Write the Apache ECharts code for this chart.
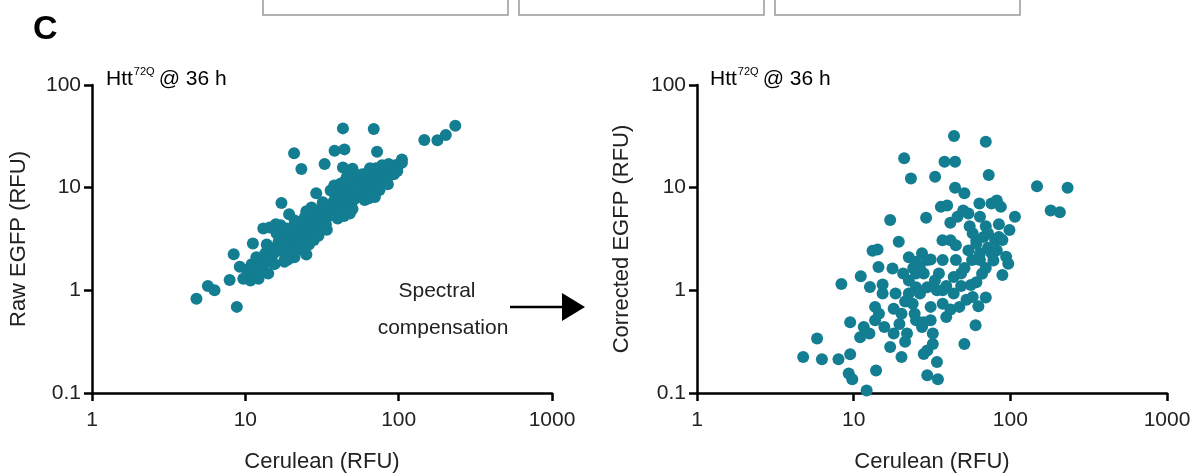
<!DOCTYPE html>
<html>
<head>
<meta charset="utf-8">
<script src="https://cdn.jsdelivr.net/npm/echarts@6/dist/echarts.min.js"></script>
<style>
  html, body { margin: 0; padding: 0; background: #fff; }
  #main { width: 1196px; height: 475px; }
</style>
</head>
<body>
<div id="main"></div>
<script>
// values (Cerulean RFU, EGFP RFU)
const rawPoints = [
  [4.8, 0.83], [5.7, 1.1], [6.3, 1.0], [8.8, 0.69], [7.9, 1.26], [8.4, 2.25], [9.2, 1.7], [9.7, 1.3], [10.2, 1.6],
  [11.2, 2.86], [13.1, 4.0], [14.1, 1.46], [14.4, 4.1], [17.2, 7.1], [19.3, 5.5], [17.6, 3.8], [18.0, 1.97],
  [20.9, 2.1], [25.0, 2.23], [20.8, 21.6], [23.2, 15.2], [29.0, 8.8], [32.9, 17.0], [38.2, 22.9], [44.3, 23.6],
  [43.3, 37.8], [68.8, 37.3], [72.3, 22.4], [43.3, 15.7], [50, 15.3], [105, 18.8], [147, 29.1], [179, 29],
  [203, 32.6], [234, 40],
  [10.5, 1.5], [11, 1.8], [11.5, 1.4], [12, 1.7], [12.5, 2.0], [13, 1.6], [13.5, 2.3], [14, 1.9], [14.5, 2.6],
  [15, 2.2], [10.8, 1.25], [12.2, 1.3], [13.8, 2.8], [11.8, 2.1], [15.5, 1.8],
  [16, 2.4], [16.5, 3.0], [17, 2.6], [17.5, 3.3], [18, 2.9], [18.5, 2.3], [19, 3.5], [19.5, 2.7], [20, 3.1],
  [20.5, 3.9], [21, 2.6], [21.5, 3.4], [22, 4.2], [16, 3.6], [17, 4.3], [18, 1.9], [19, 2.0], [20, 2.4],
  [21, 4.8], [22, 3.0], [15.8, 4.4], [18.8, 4.0],
  [23, 3.6], [23.5, 4.5], [24, 3.2], [24.5, 5.2], [25, 3.9], [25.5, 4.3], [26, 5.0], [26.5, 3.5], [27, 4.6],
  [27.5, 5.5], [28, 4.1], [28.5, 3.8], [29, 5.2], [29.5, 6.0], [30, 4.5], [31, 5.6], [31.5, 4.0], [32, 6.5],
  [33, 5.0], [33.5, 4.4], [34, 6.1], [35, 5.3], [24, 2.9], [26, 2.8], [28, 3.1], [30, 3.4], [27, 6.4],
  [25, 5.9], [32, 7.2], [34, 3.9], [23, 2.5],
  [36, 6.8], [37, 5.6], [38, 7.5], [39, 6.2], [40, 8.3], [41, 5.8], [42, 7.0], [43, 9.1], [44, 6.5], [45, 8.0],
  [46, 10.2], [47, 7.4], [48, 9.5], [49, 6.9], [50, 8.7], [51, 11], [52, 7.8], [53, 10], [54, 12], [55, 9.0],
  [38, 10.5], [42, 11], [45, 11.8], [40, 5.0], [44, 5.3], [48, 5.6], [36, 9.4], [52, 13.5], [50, 6.2], [46, 12.8],
  [57, 10.5], [58, 8.2], [60, 12.5], [62, 9.6], [63, 14], [65, 11], [66, 8.9], [68, 13], [70, 10.2], [71, 15.5],
  [73, 12], [75, 14.2], [77, 11.5], [78, 16.5], [80, 13], [82, 15], [84, 12.2], [86, 17], [88, 14], [90, 15.8],
  [93, 13.5], [95, 16.5], [98, 14.5], [60, 7.6], [64, 7.9], [70, 8.1], [65, 15.5], [58, 13.5], [75, 9.5],
  [100, 16.8], [105, 17.5], [85, 10.8]
];

const correctedPoints = [
  [4.76, 0.224], [5.84, 0.339], [6.27, 0.213], [8.0, 0.213], [9.5, 0.238], [9.3, 0.155], [9.8, 0.136],
  [12.1, 0.106], [13.9, 0.166], [8.35, 1.15], [9.5, 0.49], [11.1, 1.37], [12.7, 1.08], [13.2, 2.43], [14.2, 2.5],
  [14.4, 1.69], [15.3, 1.14], [15.3, 0.93], [17.1, 4.83], [19.4, 2.97], [17.7, 1.63], [21.0, 19.3], [23.2, 12.3],
  [29, 5.1], [33.1, 12.8], [38, 17.9], [44.4, 17.9], [43.7, 31.8], [69.7, 28], [72.8, 13.3], [44.4, 10.0],
  [50.9, 8.8], [36, 6.5], [39.5, 6.7], [50, 6.0], [63.5, 7.0], [75.8, 7.0], [82, 7.5], [87, 6.5], [107, 5.2],
  [148, 10.3], [232, 10.0], [181, 6.0], [207, 5.75], [41.4, 4.55], [36.9, 3.08], [44.9, 2.75], [55, 4.2],
  [60.7, 3.08], [69.7, 4.2], [84.5, 4.4], [98.7, 3.86], [94, 2.12], [97, 1.82], [89, 1.41], [82, 2.45],
  [69.7, 1.65], [60, 0.457], [50.9, 0.30], [69.7, 0.85], [62.5, 0.70], [47.3, 0.69], [39, 0.55], [34, 1.0],
  [35, 1.46], [29.5, 1.97], [25, 1.9], [31, 2.0], [28, 1.46], [25, 1.07], [26.5, 0.93], [23.8, 0.74],
  [21.3, 0.78], [20.2, 0.59], [19.6, 0.47], [21.9, 0.38], [20.2, 0.224], [21.3, 0.316], [18, 0.66], [18, 0.38],
  [17.1, 0.28], [15.7, 0.44], [14.5, 0.59], [13.7, 0.51], [13.7, 0.69], [12.6, 0.38], [11.6, 0.44], [11, 0.35],
  [27.3, 0.44], [28, 0.24], [29.5, 0.26], [32, 0.30], [29.5, 0.149], [34.5, 0.136], [34, 0.20], [31, 0.51],
  [32, 0.38], [24.5, 0.59], [25, 0.51], [28, 0.49], [31, 0.69], [37, 0.74], [43.5, 0.93], [48.5, 1.1],
  [56, 1.13], [60.7, 1.2], [66, 1.45], [43.5, 1.35], [39, 1.1], [48.5, 1.46], [51, 1.65], [57, 1.97], [64, 2.3],
  [72, 2.6], [76, 2.3], [54, 2.45], [60.7, 2.85], [67.5, 3.3], [57.5, 3.6], [72, 3.6], [80, 3.1], [78, 1.95],
  [84.5, 3.3], [64, 1.97], [89, 3.1], [41.5, 3.08], [44.9, 1.97], [37, 1.97], [33, 1.25], [25, 1.46],
  [22.5, 1.25], [20.7, 1.46], [26.5, 1.65], [22.5, 0.93], [18.5, 0.93], [54, 5.6], [46, 5.2], [64, 5.2],
  [52.5, 0.81], [57.5, 0.86], [41.5, 0.65], [37, 1.0], [24, 1.65], [29.5, 1.07], [22.5, 2.1], [27.3, 2.3]
];

const xTickLabels = ['1', '10', '100', '1000'];
const yTickLabels = ['0.1', '1', '10', '100'];

const dotColor = '#137d91';
const font = 'Liberation Sans, Arial, sans-serif';
const myChart = echarts.init(document.querySelector('#main'));

function xAxisFor(gridIndex) {
  return {
    gridIndex: gridIndex,
    type: 'log',
    logBase: 10,
    min: 1,
    max: 1000,
    name: 'Cerulean (RFU)',
    nameLocation: 'middle',
    nameGap: 58,
    nameTextStyle: { fontFamily: font, fontSize: 22, color: '#222' },
    axisLine: { lineStyle: { color: '#000', width: 2.5 } },
    axisTick: { length: 8, lineStyle: { color: '#000', width: 2.5 } },
    minorTick: { show: false },
    splitLine: { show: false },
    axisLabel: {
      fontFamily: font, fontSize: 21, color: '#222', margin: 17,
      formatter: function (v) {
        const i = Math.round(Math.log10(v));
        return xTickLabels[i] !== undefined ? xTickLabels[i] : '';
      }
    }
  };
}

function yAxisFor(gridIndex, name, gap) {
  return {
    gridIndex: gridIndex,
    type: 'log',
    logBase: 10,
    min: 0.1,
    max: 100,
    name: name,
    nameLocation: 'middle',
    nameGap: gap,
    nameTextStyle: { fontFamily: font, fontSize: 22, color: '#222' },
    axisLine: { lineStyle: { color: '#000', width: 2.5 } },
    axisTick: { length: 8, lineStyle: { color: '#000', width: 2.5 } },
    minorTick: { show: false },
    splitLine: { show: false },
    axisLabel: {
      fontFamily: font, fontSize: 21, color: '#222', margin: 11,
      formatter: function (v) {
        const i = Math.round(Math.log10(v)) + 1;
        return yTickLabels[i] !== undefined ? yTickLabels[i] : '';
      }
    }
  };
}

const headline = {
  type: 'text',
  style: {
    text: '{a|Htt}{s|72Q}{a|@ 36 h}',
    fontFamily: font,
    rich: {
      a: { fontFamily: font, fontSize: 21, color: '#222', lineHeight: 24, verticalAlign: 'bottom' },
      s: { fontFamily: font, fontSize: 11, color: '#222', lineHeight: 24, verticalAlign: 'top', padding: [0, 4, 0, 1] }
    }
  }
};

const option = {
  animation: false,
  backgroundColor: '#fff',
  grid: [
    { left: 92, width: 460, top: 85, height: 308, outerBoundsMode: 'none', containLabel: false },
    { left: 697, width: 470, top: 85, height: 308, outerBoundsMode: 'none', containLabel: false }
  ],
  xAxis: [xAxisFor(0), xAxisFor(1)],
  yAxis: [yAxisFor(0, 'Raw EGFP (RFU)', 62), yAxisFor(1, 'Corrected EGFP (RFU)', 64)],
  series: [
    {
      type: 'scatter', xAxisIndex: 0, yAxisIndex: 0,
      data: rawPoints, symbolSize: 12,
      itemStyle: { color: dotColor, opacity: 1 }
    },
    {
      type: 'scatter', xAxisIndex: 1, yAxisIndex: 1,
      data: correctedPoints, symbolSize: 12,
      itemStyle: { color: dotColor, opacity: 1 }
    }
  ],
  graphic: [
    // panel letter
    { type: 'text', left: 33, top: 13, style: { text: 'C', fontFamily: font, fontSize: 34, fontWeight: 'bold', fill: '#000' } },
    // boxes cut at the top edge
    { type: 'rect', shape: { x: 263, y: -5, width: 245, height: 20 }, style: { fill: '#fff', stroke: '#999', lineWidth: 1.5 } },
    { type: 'rect', shape: { x: 519, y: -5, width: 245, height: 20 }, style: { fill: '#fff', stroke: '#999', lineWidth: 1.5 } },
    { type: 'rect', shape: { x: 775, y: -5, width: 245, height: 20 }, style: { fill: '#fff', stroke: '#999', lineWidth: 1.5 } },
    // panel headings
    Object.assign({ left: 106, top: 66 }, headline),
    Object.assign({ left: 710, top: 66 }, headline),
    // spectral compensation arrow
    { type: 'text', x: 437, y: 291, style: { text: 'Spectral', fontFamily: font, fontSize: 21, fill: '#222', align: 'center', verticalAlign: 'middle' } },
    { type: 'text', x: 443, y: 328, style: { text: 'compensation', fontFamily: font, fontSize: 21, fill: '#222', align: 'center', verticalAlign: 'middle' } },
    { type: 'line', shape: { x1: 510, y1: 307, x2: 565, y2: 307 }, style: { stroke: '#000', lineWidth: 2.5 } },
    { type: 'polygon', shape: { points: [[562, 293], [585, 307], [562, 321]] }, style: { fill: '#000' } }
  ]
};

option && myChart.setOption(option);
</script>
</body>
</html>
